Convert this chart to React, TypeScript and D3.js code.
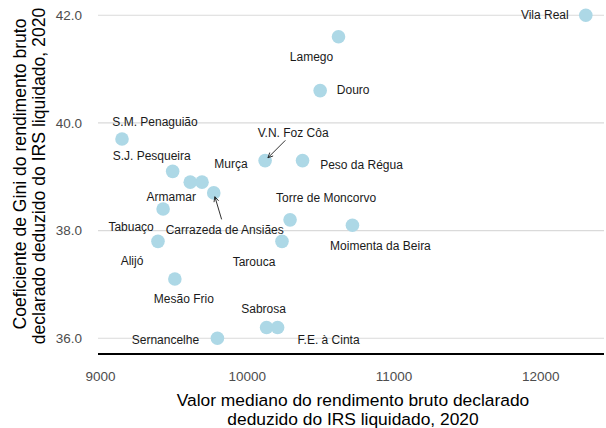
// App.tsx
import React, { useEffect, useRef } from 'react';
import * as d3 from 'd3';

// Municipalities of the Douro sub-region (plus the region itself)
const names = [
  'Vila Real', 'Lamego', 'Douro', 'S.M. Penaguião', 'V.N. Foz Côa', 'Peso da Régua',
  'S.J. Pesqueira', 'Murça', 'Armamar', 'Carrazeda de Ansiães', 'Tabuaço',
  'Torre de Moncorvo', 'Moimenta da Beira', 'Alijó', 'Tarouca', 'Mesão Frio',
  'Sabrosa', 'F.E. à Cinta', 'Sernancelhe',
];
// Median gross declared income net of IRS, 2020 (euros)
const medianIncome = [
  12310, 10625, 10500, 9150, 10125, 10380,
  9495, 9695, 9615, 9775, 9430,
  10295, 10720, 9395, 10240, 9510,
  10135, 10210, 9800,
];
// Gini coefficient
const gini = [
  42.0, 41.6, 40.6, 39.7, 39.3, 39.3,
  39.1, 38.9, 38.9, 38.7, 38.4,
  38.2, 38.1, 37.8, 37.8, 37.1,
  36.2, 36.2, 36.0,
];
const xTicks = [9000, 10000, 11000, 12000];
const yTicks = [36, 38, 40, 42];

// label placement (pixel offsets from the dot, like ggrepel output)
const labelOffset: Record<string, [number, number, boolean?]> = {
  'Vila Real': [-41, 0],
  'Lamego': [-27, 20],
  'Douro': [33, -1],
  'S.M. Penaguião': [33, -17],
  'V.N. Foz Côa': [28, -28, true],
  'Peso da Régua': [59, 4],
  'S.J. Pesqueira': [-21, -15],
  'Murça': [29, -18],
  'Armamar': [-19, 15],
  'Carrazeda de Ansiães': [11, 37, true],
  'Tabuaço': [-32, 18],
  'Torre de Moncorvo': [36, -22],
  'Moimenta da Beira': [28, 21],
  'Alijó': [-26, 20],
  'Tarouca': [-28, 21],
  'Mesão Frio': [9, 20],
  'Sabrosa': [-3, -19],
  'F.E. à Cinta': [51, 12],
  'Sernancelhe': [-52, 2],
};

const font = '"Liberation Sans", Arial, sans-serif';

const App = () => {
  const ref = useRef<SVGSVGElement>(null);

  useEffect(() => {
    if (!ref.current) return;
    const panel = { left: 98, right: 604, top: 0, bottom: 354 };

    const svg = d3.select(ref.current);
    svg.selectAll('*').remove();

    const x = d3.scaleLinear().domain([9000, 12000]).range([100, 540.3]);
    const y = d3.scaleLinear().domain([36, 42]).range([338.3, 15.2]);

    // horizontal grid
    svg.append('g')
      .selectAll('line')
      .data(yTicks)
      .join('line')
      .attr('x1', panel.left)
      .attr('x2', panel.right)
      .attr('y1', d => y(d))
      .attr('y2', d => y(d))
      .attr('stroke', '#dadada')
      .attr('stroke-width', 1.1);

    // y axis labels
    const yAxis = svg.append('g')
      .attr('transform', `translate(${panel.left}, 0)`)
      .call(d3.axisLeft(y).tickValues(yTicks).tickFormat(d3.format('.1f')).tickSize(0).tickPadding(16));
    yAxis.select('.domain').remove();
    yAxis.selectAll('text')
      .attr('fill', '#4d4d4d')
      .style('font-family', font)
      .style('font-size', '13.5px');

    // x axis labels
    const xAxis = svg.append('g')
      .attr('transform', `translate(0, ${panel.bottom})`)
      .call(d3.axisBottom(x).tickValues(xTicks).tickFormat(d3.format('d')).tickSize(0).tickPadding(17));
    xAxis.select('.domain').remove();
    xAxis.selectAll('text')
      .attr('fill', '#4d4d4d')
      .style('font-family', font)
      .style('font-size', '13.5px');

    // black baseline
    svg.append('line')
      .attr('x1', panel.left)
      .attr('x2', panel.right)
      .attr('y1', panel.bottom)
      .attr('y2', panel.bottom)
      .attr('stroke', '#000')
      .attr('stroke-width', 2.2);

    const data = names.map((name, i) => ({ name, x: medianIncome[i], y: gini[i] }));

    // points
    svg.append('g')
      .selectAll('circle')
      .data(data)
      .join('circle')
      .attr('cx', d => x(d.x))
      .attr('cy', d => y(d.y))
      .attr('r', 6.8)
      .attr('fill', '#add8e6');

    // labels
    svg.append('g')
      .selectAll('text')
      .data(data)
      .join('text')
      .attr('x', d => x(d.x) + labelOffset[d.name][0])
      .attr('y', d => y(d.y) + labelOffset[d.name][1])
      .attr('text-anchor', 'middle')
      .attr('dominant-baseline', 'central')
      .attr('fill', '#1a1a1a')
      .style('font-family', font)
      .style('font-size', '12px')
      .text(d => d.name);

    // leader arrows
    const arrowed = data.filter(d => labelOffset[d.name][2]);
    const arrows = svg.append('g').attr('stroke', '#1a1a1a').attr('stroke-width', 0.9).attr('fill', 'none');
    arrowed.forEach(d => {
      const [dx, dy] = labelOffset[d.name];
      const len = Math.hypot(dx, dy);
      const ux = dx / len, uy = dy / len;
      const px = x(d.x), py = y(d.y);
      const sx = px + ux * (len - 11), sy = py + uy * (len - 11);
      const ex = px + ux * 4, ey = py + uy * 4;
      arrows.append('line').attr('x1', sx).attr('y1', sy).attr('x2', ex).attr('y2', ey);
      const ang = Math.atan2(uy, ux);
      const head = 5.5, spread = Math.PI / 7;
      const p1 = [ex + head * Math.cos(ang - spread), ey + head * Math.sin(ang - spread)];
      const p2 = [ex + head * Math.cos(ang + spread), ey + head * Math.sin(ang + spread)];
      arrows.append('path').attr('d', `M${p1[0]},${p1[1]}L${ex},${ey}L${p2[0]},${p2[1]}`);
    });

    // axis titles
    const xTitle = svg.append('text')
      .attr('text-anchor', 'middle')
      .attr('fill', '#000')
      .style('font-family', font)
      .style('font-size', '17.4px');
    xTitle.append('tspan').attr('x', 353).attr('y', 406).text('Valor mediano do rendimento bruto declarado');
    xTitle.append('tspan').attr('x', 353).attr('y', 424.5).text('deduzido do IRS liquidado, 2020');

    const yTitle = svg.append('text')
      .attr('transform', 'rotate(-90)')
      .attr('text-anchor', 'middle')
      .attr('fill', '#000')
      .style('font-family', font)
      .style('font-size', '17.6px');
    yTitle.append('tspan').attr('x', -174).attr('y', 26).text('Coeficiente de Gini do rendimento bruto');
    yTitle.append('tspan').attr('x', -176).attr('y', 45).text('declarado deduzido do IRS liquidado, 2020');
  }, []);

  return (
    <svg ref={ref} width={606} height={428}
      style={{ position: 'absolute', left: 0, top: 0, background: '#fff' }} />
  );
};

export default App;
